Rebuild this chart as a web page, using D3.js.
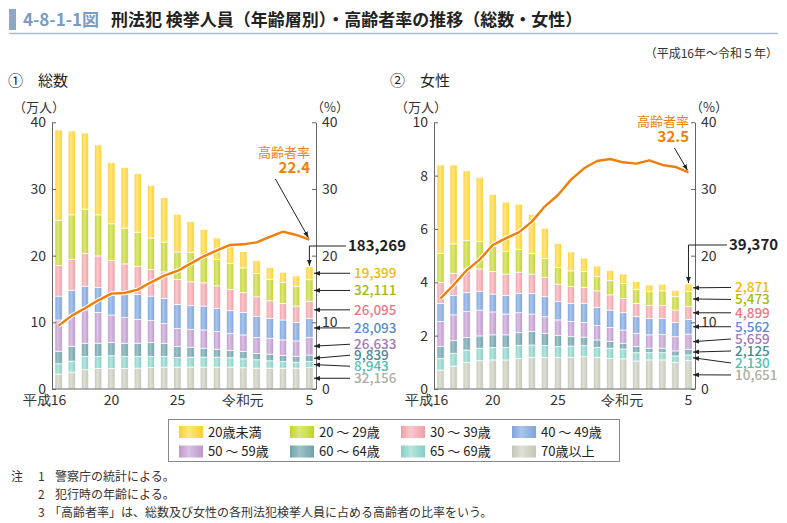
<!DOCTYPE html>
<html>
<head>
<meta charset="utf-8">
<script src="https://cdn.jsdelivr.net/npm/d3@7"></script>
<style>
  body { margin: 0; background: #fff; }
  svg { display: block; font-family: "Noto Sans CJK JP", "Noto Sans", sans-serif; }
</style>
</head>
<body>
<svg id="chart" width="787" height="523"></svg>
<script>
// ---- data (人) ----
const years = ["平成16","17","18","19","20","21","22","23","24","25","26","27","28","29","30","令和元","2","3","4","5"];
const tickYears = ["平成16","20","25","令和元","5"];
const groupNames = ["70歳以上","65 ～ 69歳","60 ～ 64歳","50 ～ 59歳","40 ～ 49歳","30 ～ 39歳","20 ～ 29歳","20歳未満"]; // stack order, bottom -> top

// 総数
const total70  = [22400,25400,28900,30800,30800,30800,31300,32300,32800,32800,32800,32800,32800,32800,31800,31300,31300,31300,31300,32156];
const total65  = [15400,16400,19900,18000,19000,18000,17500,16500,16000,14500,15000,15000,15000,14000,13500,12500,11000,10000,9000,8943];
const total60  = [18900,22400,19900,19900,19900,19900,19900,20900,19900,16400,14900,13400,11900,10900,10900,9400,9900,8900,8500,9839];
const total50  = [46800,46700,49700,46200,41200,38300,35800,32800,29800,27300,26900,27400,26400,25900,24900,23900,23900,23400,23300,26633];
const total40  = [35800,37400,35800,37300,32400,34800,37300,36800,37300,35900,35300,35800,34800,33800,33800,31400,29900,29900,27900,28093];
const total30  = [45800,46200,48800,47300,49200,45800,42300,39800,39800,37300,35800,34800,33800,31900,29900,29800,26300,24900,24400,26095];
const total20  = [67600,66700,66700,61700,55300,53700,51200,47300,44800,41300,43800,38800,39300,38800,36800,34800,32400,31300,29800,32111];
const totalU20 = [135800,125800,114300,104800,91700,91200,87700,79100,66600,56500,46500,41500,32500,25900,24400,19400,17800,15300,15300,19399];
const totalRate = [9.5,11.0,12.1,13.3,14.3,14.4,14.9,16.0,17.0,17.7,18.8,19.9,20.8,21.6,21.7,22.0,22.8,23.6,23.1,22.4];

// 女性
const female70  = [7100,8600,9900,10600,10900,10900,11500,11900,11900,11900,11900,12100,11900,11500,11300,10500,10900,10900,10000,10651];
const female65  = [4400,4800,4700,4700,4700,4700,4900,4600,4400,4000,4200,4200,3700,3800,3700,3100,2700,2700,2400,2130];
const female60  = [4400,4700,4700,4600,4700,4700,4700,5000,4600,4100,3500,3100,2800,2500,2100,2300,1700,1700,1900,2125];
const female50  = [9400,9700,9700,9700,8600,7800,7500,6600,6200,5900,5700,5600,5400,5300,5000,5000,5000,5200,5300,5659];
const female40  = [6800,7200,7100,6900,6700,7000,7300,7700,7500,6900,6800,7100,6800,6500,6500,6200,6200,6000,5400,5562];
const female30  = [7800,8400,8900,8500,8400,8000,7900,7300,7300,6500,6300,6000,6200,5700,5400,5000,4800,4800,4600,4899];
const female20  = [11000,11000,10600,10300,9400,8400,8600,7800,7100,6300,5900,5900,5300,5300,5600,5300,5200,5500,5000,5473];
const femaleU20 = [33100,29600,26200,24100,19600,18600,16900,14600,11300,9000,7100,5100,4000,3800,3500,2900,2500,2500,2400,2871];
const femaleRate = [13.6,15.6,17.8,19.4,21.6,22.6,23.5,25.1,27.4,29.1,31.4,33.1,34.2,34.5,34.0,33.8,34.3,33.6,33.3,32.5];

const totalTicks = [0,100000,200000,300000,400000];
const femaleTicks = [0,20000,40000,60000,80000,100000];
const rateTicks = [0,10,20,30,40];

// ---- styles ----
const groupStyle = [
  { base: "#c3c6b8", light: "#dfe0d6", text: "#acae9f" },
  { base: "#84cfc3", light: "#b7e5de", text: "#55bfae" },
  { base: "#6fa1ab", light: "#a0c2c8", text: "#4a8a95" },
  { base: "#bd97cb", light: "#dac2e3", text: "#a477b8" },
  { base: "#7ca4dc", light: "#aac4eb", text: "#5a8bd0" },
  { base: "#f09fa6", light: "#f8c8cc", text: "#ec7782" },
  { base: "#c2d22a", light: "#dce77e", text: "#a3ba12" },
  { base: "#fcd12a", light: "#ffe681", text: "#f2bb00" }
];
const orange = "#ef7f0a";

const svg = d3.select("#chart");
const defs = svg.append("defs");

groupStyle.forEach((s, i) => {
  const lg = defs.append("linearGradient").attr("id", "grad" + i)
    .attr("x1", "0%").attr("x2", "100%").attr("y1", "0%").attr("y2", "0%");
  lg.append("stop").attr("offset", "0%").attr("stop-color", s.base);
  lg.append("stop").attr("offset", "40%").attr("stop-color", s.light);
  lg.append("stop").attr("offset", "100%").attr("stop-color", s.base);
});

defs.append("marker").attr("id", "arrow")
  .attr("viewBox", "0 0 10 10").attr("refX", 10).attr("refY", 5)
  .attr("markerWidth", 6).attr("markerHeight", 6)
  .attr("orient", "auto")
  .append("path").attr("d", "M0,1 L10,5 L0,9 z").attr("fill", "#222");

// ---- title ----
svg.append("rect").attr("x", 9).attr("y", 9).attr("width", 7).attr("height", 21).attr("fill", "#8ea8c3");
svg.append("text").attr("x", 23).attr("y", 26).attr("font-size", 17).attr("font-weight", "bold")
  .attr("fill", "#7a9bc2").text("4-8-1-1図");
svg.append("text").attr("x", 111).attr("y", 26).attr("font-size", 17).attr("font-weight", "bold")
  .attr("fill", "#222").text("刑法犯 検挙人員（年齢層別）・高齢者率の推移（総数・女性）");
svg.append("line").attr("x1", 9).attr("x2", 778).attr("y1", 33.5).attr("y2", 33.5)
  .attr("stroke", "#a9bccf").attr("stroke-width", 1.5);
svg.append("text").attr("x", 778).attr("y", 58).attr("text-anchor", "end").attr("font-size", 12)
  .attr("fill", "#333").text("（平成16年～令和５年）");

// ---- panels ----
function panel(o) {
  const g = svg.append("g");
  const yTop = 122.3, yBot = 389;

  g.append("text").attr("x", o.x0 - 44).attr("y", 86).attr("font-size", 15).attr("fill", "#222").text(o.title);
  g.append("text").attr("x", o.x0 - 39).attr("y", 112).attr("font-size", 13).attr("fill", "#333").text("（万人）");
  g.append("text").attr("x", o.x1 + 14).attr("y", 112).attr("font-size", 13).attr("fill", "#333")
    .attr("text-anchor", "middle").text("（%）");

  const x = d3.scaleBand().domain(years).range([o.x0, o.x1]).paddingInner(0.45).paddingOuter(0.225);
  const y = d3.scaleLinear().domain([0, o.max]).range([yBot, yTop]);
  const yR = d3.scaleLinear().domain([0, 40]).range([yBot, yTop]);

  const rows = years.map((yr, i) => {
    const r = { year: yr };
    o.series.forEach((s, k) => { r[k] = s[i]; });
    return r;
  });
  const keys = o.series.map((s, k) => k);
  const stacked = d3.stack().keys(keys)(rows);

  g.selectAll("g.layer").data(stacked).enter().append("g").attr("class", "layer")
    .attr("fill", (d, i) => `url(#grad${i})`)
    .selectAll("rect").data(d => d).enter().append("rect")
    .attr("x", d => x(d.data.year))
    .attr("width", x.bandwidth())
    .attr("y", d => y(d[1]))
    .attr("height", d => y(d[0]) - y(d[1]))
    .attr("stroke", "#fff").attr("stroke-width", 0.7);

  // 高齢者率 line
  const line = d3.line().x((d, i) => x(years[i]) + x.bandwidth() / 2).y(d => yR(d));
  g.append("path").datum(o.rate).attr("d", line).attr("fill", "none")
    .attr("stroke", "#fff").attr("stroke-width", 4.5).attr("stroke-linejoin", "round");
  g.append("path").datum(o.rate).attr("d", line).attr("fill", "none")
    .attr("stroke", orange).attr("stroke-width", 2.4).attr("stroke-linejoin", "round");

  // axes
  const axL = g.append("g").attr("transform", `translate(${o.x0},0)`)
    .call(d3.axisLeft(y).tickValues(o.ticks).tickFormat(d => d / 10000)
      .tickSizeInner(-4).tickSizeOuter(0).tickPadding(6));
  const axR = g.append("g").attr("transform", `translate(${o.x1},0)`)
    .call(d3.axisRight(yR).tickValues(rateTicks).tickSizeInner(-4).tickSizeOuter(0).tickPadding(6));
  const axB = g.append("g").attr("transform", `translate(0,${yBot})`)
    .call(d3.axisBottom(x).tickValues(tickYears).tickSize(0).tickPadding(6)
      .tickFormat(d => d.replace(/^(平成|令和)/, "")));
  axB.select(".domain").attr("d", `M${o.x0},0H${o.x1}`);
  [axL, axR, axB].forEach(a => {
    a.select(".domain").attr("stroke", "#666");
    a.selectAll(".tick line").attr("stroke", "#666");
    a.selectAll("text").attr("font-size", 14).attr("fill", "#333")
      .attr("font-family", '"Noto Sans CJK JP", "Noto Sans", sans-serif');
  });
  // era prefix left of the year number
  axB.selectAll(".tick").each(function (d) {
    const m = d.match(/^(平成|令和)/);
    if (!m) return;
    const t = d3.select(this).select("text");
    const w = t.node().getComputedTextLength();
    d3.select(this).append("text").attr("x", -w / 2).attr("y", t.attr("y")).attr("dy", t.attr("dy"))
      .attr("text-anchor", "end").attr("font-size", 14).attr("fill", "#333").text(m[1]);
  });

  // rate annotation
  const last = years.length - 1;
  const lx = x(years[last]) + x.bandwidth() / 2;
  g.append("text").attr("x", o.x1 - 6).attr("y", o.rateY).attr("text-anchor", "end")
    .attr("font-size", 13).attr("fill", orange).text("高齢者率");
  g.append("text").attr("x", o.x1 - 6).attr("y", o.rateY + 16).attr("text-anchor", "end")
    .attr("font-size", 15).attr("font-weight", "bold").attr("fill", orange).text(o.rate[last].toFixed(1));
  g.append("line").attr("x1", lx - 34 + o.rateArrowDx).attr("y1", o.rateY + 22)
    .attr("x2", lx - 1).attr("y2", yR(o.rate[last]) - 2)
    .attr("stroke", "#222").attr("stroke-width", 1).attr("marker-end", "url(#arrow)");

  // total annotation
  const sum = d3.sum(o.series, s => s[last]);
  const barRight = x(years[last]) + x.bandwidth();
  g.append("path").attr("d", `M${o.labelX - 8},${o.totalY}H${lx}V${y(sum) - 1}`)
    .attr("fill", "none").attr("stroke", "#222").attr("stroke-width", 1).attr("marker-end", "url(#arrow)");
  g.append("text").attr("x", o.labelX - 6).attr("y", o.totalY).attr("dy", "0.36em")
    .attr("font-size", 15).attr("font-weight", "bold").attr("fill", "#222").text(d3.format(",")(sum));

  // per group labels for the latest year, spread to avoid overlaps
  const labels = stacked.map((s, i) => ({ i, v: o.series[i][last], mid: y((s[last][0] + s[last][1]) / 2) }));
  labels.forEach(l => { l.ly = l.mid; });
  const gap = o.gap, up = o.upBias;
  for (let it = 0; it < 100; it++) {
    for (let k = 0; k < labels.length - 1; k++) {
      const lo = labels[k], hi = labels[k + 1];   // lo is lower on screen (bigger y)
      const d = lo.ly - hi.ly;
      if (d < gap) { const p = (gap - d) / 2; lo.ly += p * (2 - up); hi.ly -= p * up; }
    }
  }
  labels.forEach(l => {
    g.append("line").attr("x1", o.labelX - 4).attr("y1", l.ly).attr("x2", barRight + 1).attr("y2", l.mid)
      .attr("stroke", "#222").attr("stroke-width", 1).attr("marker-end", "url(#arrow)");
    g.append("text").attr("x", o.labelX).attr("y", l.ly).attr("dy", "0.36em")
      .attr("font-size", 13.5).attr("font-weight", 500).attr("fill", groupStyle[l.i].text)
      .text(d3.format(",")(l.v));
  });
}

panel({
  title: "①　総数", x0: 52, x1: 316, max: 400000, ticks: totalTicks,
  series: [total70, total65, total60, total50, total40, total30, total20, totalU20],
  rate: totalRate, rateY: 157, rateArrowDx: 0, totalY: 246, labelX: 354, gap: 11, upBias: 1.4
});
panel({
  title: "②　女性", x0: 434, x1: 695, max: 100000, ticks: femaleTicks,
  series: [female70, female65, female60, female50, female40, female30, female20, femaleU20],
  rate: femaleRate, rateY: 126, rateArrowDx: 20, totalY: 245, labelX: 735, gap: 12, upBias: 0.9
});

// ---- legend ----
const legendOrder = [7, 6, 5, 4, 3, 2, 1, 0];
const lgd = svg.append("g");
lgd.append("rect").attr("x", 168.5).attr("y", 419.5).attr("width", 451).attr("height", 42)
  .attr("fill", "none").attr("stroke", "#888").attr("stroke-width", 1);
legendOrder.forEach((gi, k) => {
  const cx = 179 + (k % 4) * 111, cy = 432 + Math.floor(k / 4) * 19.5;
  lgd.append("rect").attr("x", cx).attr("y", cy - 6).attr("width", 24).attr("height", 12)
    .attr("fill", `url(#grad${gi})`);
  lgd.append("text").attr("x", cx + 29).attr("y", cy).attr("dy", "0.36em")
    .attr("font-size", 13).attr("fill", "#222").text(groupNames[gi]);
});

// ---- notes ----
const notes = ["警察庁の統計による。", "犯行時の年齢による。", "「高齢者率」は、総数及び女性の各刑法犯検挙人員に占める高齢者の比率をいう。"];
const nt = svg.append("g").attr("font-size", 12).attr("fill", "#333");
nt.append("text").attr("x", 11).attr("y", 481).text("注");
notes.forEach((n, i) => {
  nt.append("text").attr("x", 38).attr("y", 481 + i * 18).text(i + 1);
  nt.append("text").attr("x", i === 2 ? 49 : 55).attr("y", 481 + i * 18).text(n);
});
</script>
</body>
</html>
